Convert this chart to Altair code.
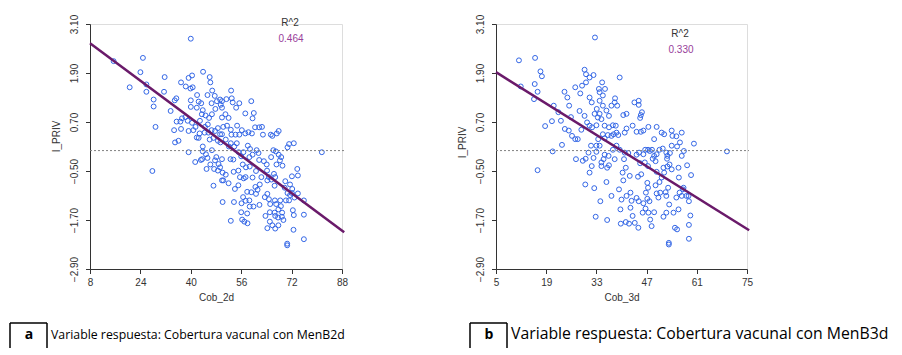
import altair as alt
import pandas as pd

# ---------------- data ----------------
# Panel a: Cob_2d vs I_PRIV
points_a = [
(40,2.74),(15.5,2.19),(24.8,2.27),(24,1.92),(20.6,1.55),(25.9,1.62),(25.9,1.44),(28.2,1.25),(28.2,1.08),(28.8,0.58),
(27.8,-0.50),(31.7,1.80),(31.5,1.44),(33.6,0.97),(34.9,1.23),(35.4,1.28),(36.9,1.67),(38.4,1.57),(39.3,1.78),(40.4,1.84),
(39.9,1.52),(40.6,1.55),(43.9,1.93),(46.0,1.80),(46.2,1.67),(46.8,1.47),(45.3,1.36),(42.0,1.36),(40,1.23),(40,1.07),
(42.5,1.20),(43.3,1.16),(43.8,0.99),(44.7,0.86),(46.6,1.16),(47.8,1.02),(49.3,1.25),(49.5,1.12),(49.9,1.05),(51.3,1.26),
(52.8,1.47),(53.0,1.28),(53.3,1.18),(54.4,1.05),(55.4,1.16),(59.2,1.21),(57.3,0.91),(60.0,0.92),(59.6,0.79),(60.4,0.57),
(61.7,0.57),(62.6,0.58),(58.3,0.45),(57.3,0.42),(56.2,0.50),(54.7,0.61),(55.4,0.39),(52.9,0.39),(59.4,0.42),(62.9,0.39),
(65.9,0.36),(65.4,0.39),(67.9,0.48),(67.3,0.42),(72.7,0.18),(71.2,0.16),(70.7,0.08),(81.6,-0.04),(36.1,0.24),(35.0,0.20),
(34.7,0.50),(35.5,0.71),(36.7,0.71),(37.2,0.79),(38.3,0.82),(39.0,0.73),(40.4,0.68),(41.5,0.58),(40.8,0.50),(39.3,0.48),
(36.9,0.53),(39.3,-0.04),(41.4,-0.28),(43.6,-0.21),(43.8,-0.02),(43.8,0.10),(45.0,-0.45),(43.2,-0.23),(45.3,-0.18),(47.2,-0.86),
(47.7,-0.24),(48.1,-0.16),(48.8,-0.33),(49.3,-0.41),(49.9,-0.21),(48.6,-0.49),(50.1,-0.54),(50.3,-0.73),(51.1,-0.59),(52.0,-0.80),
(50.1,-1.26),(52.6,-0.21),(53.5,-0.22),(53.8,0.10),(52.1,0.10),(51.1,0.27),(49.4,0.20),(48.6,0.24),(47.2,0.31),(46.0,0.27),
(46.6,0.50),(47.7,0.48),(48.6,0.55),(50.3,0.58),(51.5,0.61),(45.4,0.64),(44.5,0.58),(42.8,0.42),(42.5,0.31),(41.9,0.32),
(46.7,0.01),(44.8,-0.09),(55.2,-0.04),(56.0,-0.14),(56.7,-0.04),(58.1,0.12),(58.8,0.04),(59.6,-0.10),(60.9,0.01),(61.5,-0.06),
(61.7,-0.23),(63.2,-0.26),(64.1,-0.34),(65.5,-0.16),(66.2,0.01),(67.0,-0.02),(67.9,-0.10),(68.7,-0.16),(68.3,-0.24),(67.2,-0.34),
(69.1,-0.37),(64.2,-0.49),(56.5,-0.34),(57.5,-0.41),(58.7,-0.39),(58.6,-0.16),(60.7,-0.50),(57.4,-0.65),(56.8,-0.68),(59.6,-0.66),
(61.9,-0.83),(60.5,-0.89),(61.2,-0.96),(57.9,-1.01),(57.4,-1.23),(56.1,-1.29),(56.6,-1.14),(58.6,-1.22),(59.2,-1.02),(60.7,-1.06),
(59.9,-1.37),(58.7,-1.37),(61.8,-1.33),(57.9,-1.54),(56.0,-1.51),(56.3,-1.69),(58.0,-1.78),(57.0,-1.74),(52.7,-1.72),(53.7,-1.26),
(54.0,-0.94),(64.3,-1.06),(63.5,-1.14),(64.8,-1.19),(65.2,-1.31),(66.7,-1.22),(67.1,-1.31),(68.4,-1.22),(68.6,-1.36),(67.8,-1.44),
(69.0,-1.52),(66.6,-1.52),(65.1,-1.51),(63.7,-1.60),(65.1,-1.74),(66.8,-1.60),(67.7,-1.64),(68.9,-1.62),(69.4,-1.70),(67.8,-1.83),
(65.9,-1.83),(64.3,-1.90),(66.8,-1.91),(72.4,-1.46),(72.7,-1.58),(72.6,-1.94),(75.9,-2.17),(70.6,-2.28),(70.6,-2.32),(75.9,-1.57),
(75.9,-1.22),(74.0,-1.05),(72.9,-1.15),(72.1,-1.04),(71.5,-1.09),(70.7,-1.04),(69.8,-0.91),(71.5,-0.83),(70.0,-0.75),(72.1,-0.63),
(74.0,-0.61),(73.8,-0.45),(72.2,-0.94),(70.2,-1.22),(71.2,-1.22),(66.6,-0.86),(65.6,-0.71),(64.8,-0.65),(66.4,-0.57),(66.8,-0.65),
(62.4,-0.65),(64.3,-0.73),(55.6,-0.65),(55.1,-0.85),(53.6,-0.52),(55.1,-0.49),(49.9,-0.73),(47.4,-0.45),(46.2,-0.34),(52.7,0.18),
(54.6,0.18),(49.3,0.40),(54.2,0.39),(52.7,0.51),(49.9,0.81),(51.0,0.89),(52.0,0.80),(49.9,1.21),(48.3,1.21),(47.6,1.34),
(46.7,0.89),(45.8,0.80),(43.5,0.89),(41.9,1.05),(42.9,0.73),(49.9,0.40),(45.6,0.44),(44.4,0.44),
]

# Panel b: Cob_3d vs I_PRIV
points_b = [
(32.6,2.77),(11.4,2.21),(15.9,2.27),(11.9,1.57),(15.8,1.63),(16.6,1.44),(17.4,1.94),(17.8,1.82),(15.6,1.26),(18.7,0.60),
(20.6,0.72),(20.8,-0.02),(16.6,-0.48),(21.1,1.10),(22.4,0.94),(23.4,0.14),(23.1,0.73),(24.1,1.44),(24.9,1.30),(25.4,1.10),
(24.2,0.53),(25.3,0.49),(25.9,0.82),(27.1,1.55),(28.3,0.97),(28.5,1.40),(29.0,1.59),(29.7,1.98),(30.1,1.67),(31.1,1.79),
(30.1,1.87),(32.2,1.85),(29.7,0.85),(30.4,0.69),(31.1,0.61),(28.8,0.51),(27.8,0.28),(27.1,0.28),(26.2,0.36),(27.3,-0.21),
(29.2,-0.25),(30.0,-0.20),(30.8,-0.05),(31.5,0.12),(32.2,-0.18),(33.0,0.12),(31.7,-0.38),(31.1,-0.54),(29.9,-0.83),(32.4,-0.92),
(32.8,-1.62),(34.1,-1.24),(36.0,-1.70),(35.8,-0.77),(34.4,-0.29),(35.3,-0.10),(36.4,-0.13),(36.5,-0.36),(36.0,-0.42),(38.1,-0.21),
(37.2,-1.11),(39.3,-0.95),(40.0,-1.20),(39.7,-1.44),(39.8,-1.79),(41.2,-1.75),(42.1,-1.79),(40.5,-0.73),(40.3,-0.54),(41.2,-0.42),
(40.7,-0.21),(40.9,-0.05),(41.9,-0.06),(42.3,-0.62),(41.4,-1.11),(42.5,-1.03),(42.8,-1.23),(42.5,-1.40),(43.1,-1.60),(43.7,-1.77),
(44.7,-1.89),(44.2,-1.16),(44.8,-1.24),(44.6,-0.64),(45.5,-0.58),(45.2,-0.31),(44.2,-0.10),(44.9,-0.05),(46.1,-0.09),(46.6,0.02),
(47.4,0.02),(46.5,-0.29),(47.4,-0.38),(47.2,-0.79),(47.4,-0.91),(46.8,-1.03),(47.2,-1.18),(46.1,-1.29),(46.7,-1.42),(45.9,-1.52),
(47.8,-1.24),(47.5,-1.52),(48.4,-1.85),(48.0,-1.69),(49.1,-1.51),(49.5,-0.85),(49.8,-1.05),(50.3,-1.15),(50.8,-1.03),(50.6,-0.77),
(51.2,-0.66),(49.8,-0.52),(49.5,-0.26),(48.7,-0.20),(49.1,-0.13),(49.8,-0.09),(48.5,0.02),(47.9,-0.01),(50.6,0.02),(51.5,0.05),
(52.5,-0.05),(52.8,-0.13),(52.7,-0.20),(51.7,-0.42),(51.9,-0.54),(52.8,-0.39),(53.4,-0.34),(53.0,-0.91),(52.3,-1.02),(52.5,-1.11),
(53.3,-1.32),(52.5,-1.52),(51.7,-1.62),(54.9,-1.89),(53.2,-2.26),(53.2,-2.30),(55.5,-1.93),(54.5,-1.52),(55.9,-1.44),(55.3,-1.15),
(56.2,-1.03),(56.8,-1.11),(57.3,-0.91),(57.1,-0.95),(58.1,-1.11),(58.8,-1.24),(58.7,-1.11),(59.4,-0.60),(58.3,-0.36),(55.9,-0.42),
(56.0,-0.66),(54.0,-0.46),(53.5,-0.06),(54.0,0.12),(55.5,0.10),(56.3,0.20),(56.8,0.44),(55.3,0.35),(56.8,-0.13),(57.4,-0.01),
(60.2,0.17),(69.4,-0.02),(58.8,-1.82),(58.8,-2.16),(59.2,-1.59),(54.2,0.36),(54.0,0.49),(51.9,0.40),(51.2,0.44),(49.8,0.58),
(47.5,0.58),(49.1,0.28),(46.1,0.49),(45.4,0.46),(44.2,0.46),(45.4,0.87),(45.7,0.94),(45.2,0.80),(44.8,1.12),(43.6,1.18),
(44.8,1.22),(43.1,0.61),(41.4,0.54),(40.9,0.44),(41.4,0.90),(40.5,0.87),(39.5,1.79),(38.8,1.10),(38.2,1.28),(38.1,1.18),
(37.2,1.10),(36.5,0.85),(35.8,0.98),(34.8,1.10),(33.9,1.22),(34.8,1.35),(35.4,1.51),(34.6,1.67),(33.7,1.51),(33.9,1.43),
(33.1,1.02),(32.5,0.90),(33.4,0.81),(33.9,0.90),(34.4,0.77),(35.3,0.61),(36.5,0.57),(37.6,0.62),(38.4,0.61),(37.2,0.36),
(36.2,0.38),(35.3,0.30),(34.8,0.40),(33.5,0.28),(37.8,0.40),(38.6,0.44),(39.1,0.38),(31.8,0.57),(33.0,0.62),(31.1,1.30),
(31.7,1.18),(37.6,0.02),(39.5,0.02),(38.6,0.12),(33.9,0.12),(33.0,-0.03),(34.4,-0.38),(35.0,-0.21),
]

# regression lines (end points)
line_a_x = [8, 88.7]
line_a_y = [2.63, -2.00]
line_b_x = [5, 75.6]
line_b_y = [1.92, -1.95]

ref_line_y = [0.0]

x_ticks_a = [8, 24, 40, 56, 72, 88]
x_ticks_b = [5, 19, 33, 47, 61, 75]
y_ticks = [-2.9, -1.7, -0.5, 0.7, 1.9, 3.1]
x_title_a = "Cob_2d"
x_title_b = "Cob_3d"
y_title = "I_PRIV"
r2_label = "R^2"
r2_a = "0.464"
r2_b = "0.330"
letter_a = "a"
letter_b = "b"
caption_a = "Variable respuesta: Cobertura vacunal con MenB2d"
caption_b = "Variable respuesta: Cobertura vacunal con MenB3d"

# ---------------- styling ----------------
H = 245
AX = "#333333"
PT = "#3366e6"
LINE = "#6a1a6a"
R2C = "#98409a"
FONT = "Liberation Sans"
CFONT = "Open Sans"


def panel(points, lx, ly, xdom, xticks, xtitle, r2, W, r2x, r2y, ytitle_y,
          letter, caption, box_x, cap_size):
    pts = pd.DataFrame(points, columns=["x", "y"])
    xscale = alt.Scale(domain=xdom, nice=False, zero=False)
    yscale = alt.Scale(domain=[-2.9, 3.1], nice=False, zero=False)
    xaxis = alt.Axis(values=xticks, title=xtitle, grid=False, labelAngle=0,
                     tickSize=4.5, labelPadding=4, titlePadding=5,
                     labelFontSize=10, titleFontSize=10, labelFont=FONT, titleFont=FONT,
                     labelColor=AX, titleColor=AX, domainColor=AX, tickColor=AX,
                     titleFontWeight="normal", labelFlush=False)
    yaxis = alt.Axis(values=y_ticks, format=".2f", title=y_title, grid=False,
                     labelAngle=270, labelAlign="center", labelBaseline="bottom",
                     tickSize=4.5, labelPadding=6, labelFontSize=10, titleFontSize=10,
                     labelFont=FONT, titleFont=FONT, labelColor=AX, titleColor=AX,
                     domainColor=AX, tickColor=AX, titleFontWeight="normal",
                     titleAngle=270, titleX=-34, titleY=ytitle_y, titleAlign="center",
                     titleBaseline="middle", labelFlush=False)
    scatter = alt.Chart(pts).mark_point(shape="circle", filled=False, size=24,
                                        strokeWidth=1, color=PT, opacity=1).encode(
        x=alt.X("x:Q", scale=xscale, axis=xaxis),
        y=alt.Y("y:Q", scale=yscale, axis=yaxis),
    )
    dashed = alt.Chart(pd.DataFrame({"y": ref_line_y})).mark_rule(
        color="#808080", strokeDash=[2, 2], strokeWidth=1).encode(
        y="y:Q", x=alt.value(0), x2=alt.value(W + 2))
    reg = alt.Chart(pd.DataFrame({"x": lx, "y": ly})).mark_line(
        color=LINE, strokeWidth=2.5, clip=False).encode(x="x:Q", y="y:Q")
    t1 = alt.Chart(pd.DataFrame({"t": [r2_label]})).mark_text(
        font=FONT, fontSize=10, color=AX, baseline="middle", align="center").encode(
        text="t:N", x=alt.value(r2x), y=alt.value(r2y))
    t2 = alt.Chart(pd.DataFrame({"t": [r2]})).mark_text(
        font=FONT, fontSize=10, color=R2C, baseline="middle", align="center").encode(
        text="t:N", x=alt.value(r2x + 1), y=alt.value(r2y + 16))
    # caption box (left, top, right sides; bottom is cut off in the reference)
    bx0, bx1, by0, by1 = box_x, box_x + 37, 299, 324
    box_l = alt.Chart(pd.DataFrame({"k": [0]})).mark_rule(color="black", strokeWidth=1.5).encode(
        x=alt.value(bx0), x2=alt.value(bx0), y=alt.value(by0), y2=alt.value(by1))
    box_t = alt.Chart(pd.DataFrame({"k": [0]})).mark_rule(color="black", strokeWidth=1.5).encode(
        x=alt.value(bx0), x2=alt.value(bx1), y=alt.value(by0), y2=alt.value(by0))
    box_r = alt.Chart(pd.DataFrame({"k": [0]})).mark_rule(color="black", strokeWidth=1.5).encode(
        x=alt.value(bx1), x2=alt.value(bx1), y=alt.value(by0), y2=alt.value(by1))
    let = alt.Chart(pd.DataFrame({"t": [letter]})).mark_text(
        font=CFONT, fontSize=14, fontWeight="bold", color="black", align="center",
        baseline="alphabetic").encode(text="t:N", x=alt.value(bx0 + 19), y=alt.value(315))
    cap = alt.Chart(pd.DataFrame({"t": [caption]})).mark_text(
        font=CFONT, fontSize=cap_size, color="black", align="left",
        baseline="alphabetic").encode(text="t:N", x=alt.value(bx1 + 4), y=alt.value(315))
    pin = alt.Chart(pd.DataFrame({"k": [0]})).mark_rule(strokeOpacity=0, strokeWidth=1).encode(
        x=alt.value(0), x2=alt.value(1), y=alt.value(-15), y2=alt.value(-15))
    return alt.layer(scatter, dashed, reg, t1, t2, box_l, box_t, box_r, let, cap, pin).properties(
        width=W, height=H)


pa = panel(points_a, line_a_x, line_a_y, [8, 88], x_ticks_a, x_title_a, r2_a, 252,
           200, -1, 112, letter_a, caption_a, -80, 12.3)
pb = panel(points_b, line_b_x, line_b_y, [5, 75], x_ticks_b, x_title_b, r2_b, 251,
           184, 10, 118, letter_b, caption_b, -26, 15.8)

chart = alt.hconcat(pa, pb, spacing=154, bounds="flush").properties(
    padding={"left": 0, "top": 0, "right": 0, "bottom": 0}
).configure_view(stroke=None).configure(background="white")

chart.save("out.html", embed_options={"renderer": "svg", "actions": False})
